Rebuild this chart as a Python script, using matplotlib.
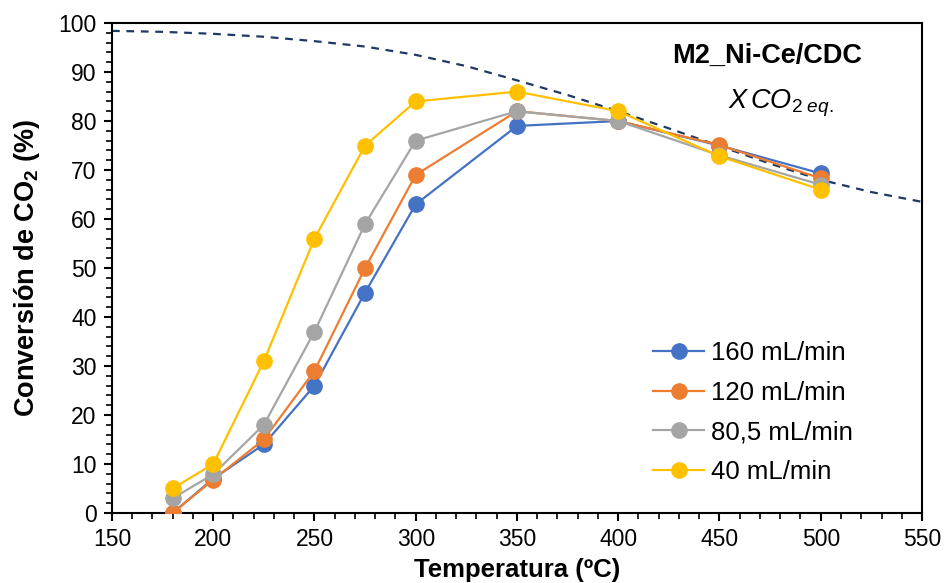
import matplotlib
matplotlib.use("Agg")
import matplotlib.pyplot as plt
from matplotlib.ticker import MultipleLocator

plt.rcParams['font.family'] = ['Liberation Sans', 'DejaVu Sans']
plt.rcParams['mathtext.fontset'] = 'custom'
plt.rcParams['mathtext.rm'] = 'Liberation Sans'
plt.rcParams['mathtext.it'] = 'Liberation Sans:italic'
plt.rcParams['mathtext.bf'] = 'Liberation Sans:bold'

temps = [180, 200, 225, 250, 275, 300, 350, 400, 450, 500]
conv_160 = [0, 7, 14, 26, 45, 63, 79, 80, 75, 69.3]
conv_120 = [0, 6.8, 15, 29, 50, 69, 82, 80, 75.1, 68.3]
conv_80 = [3, 7.9, 18, 37, 59, 76, 82, 80, 73, 67]
conv_40 = [5, 10, 31, 56, 75, 84, 86, 82, 72.8, 66]

eq_temps = [150, 175, 200, 225, 250, 275, 300, 325, 350, 375, 400, 425, 450, 475, 500, 525, 550]
eq_conv = [98.4, 98.2, 97.8, 97.2, 96.3, 95.2, 93.5, 91.2, 88.3, 85.3, 82.0, 78.5, 74.9, 71.3, 68.0, 65.5, 63.5]

labels = ["160 mL/min", "120 mL/min", "80,5 mL/min", "40 mL/min"]
colors = ["#4472C4", "#ED7D31", "#A5A5A5", "#FFC000"]
series = [conv_160, conv_120, conv_80, conv_40]

fig = plt.figure(figsize=(9.44, 5.83), dpi=100)
ax = fig.add_axes([0.1186, 0.1201, 0.8581, 0.8404])

ax.plot(eq_temps, eq_conv, linestyle=(0, (3.5, 3)), color="#203864", lw=1.6, zorder=1)

for y, lab, c in zip(series, labels, colors):
    ax.plot(temps, y, '-o', color=c, lw=1.6, markersize=11, label=lab, zorder=3)

ax.set_xlim(150, 550)
ax.set_ylim(0, 100)
ax.xaxis.set_major_locator(MultipleLocator(50))
ax.xaxis.set_minor_locator(MultipleLocator(10))
ax.yaxis.set_major_locator(MultipleLocator(10))
ax.yaxis.set_minor_locator(MultipleLocator(2))
ax.tick_params(which='major', direction='out', length=6, width=1.5, labelsize=16.5,
               color='black', pad=5)
ax.tick_params(which='minor', direction='out', length=4, width=1.2, color='black')
for s in ax.spines.values():
    s.set_linewidth(1.5)
    s.set_color('black')

ax.set_xlabel("Temperatura (ºC)", fontsize=18.5, fontweight='bold', labelpad=5)
ax.set_ylabel(r"Conversión de CO$_\mathbf{2}$ (%)", fontsize=19.5, fontweight='bold', labelpad=12)

ax.text(0.809, 0.932, "M2_Ni-Ce/CDC", transform=ax.transAxes, fontsize=19.5,
        fontweight='bold', ha='center', va='center')
ax.text(0.826, 0.837, r"$\mathit{X\,CO_{2\ eq.}}$", transform=ax.transAxes, fontsize=19.5,
        ha='center', va='center')

leg = ax.legend(loc='upper left', bbox_to_anchor=(0.668, 0.351), frameon=False,
                fontsize=18.5, handlelength=2.0, labelspacing=0.61, handletextpad=0.25,
                borderaxespad=0, borderpad=0)
for h in leg.legend_handles:
    h.set_markersize(11)

fig.savefig("out.png", dpi=100)
